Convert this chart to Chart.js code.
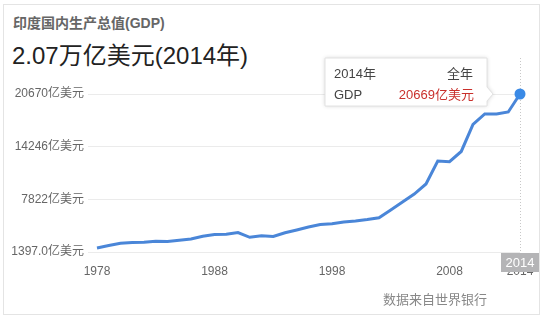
<!DOCTYPE html>
<html>
<head>
<meta charset="utf-8">
<script src="https://cdn.jsdelivr.net/npm/chart.js@4"></script>
<style>
  html, body { margin: 0; padding: 0; background: #fff; }
  body { width: 546px; height: 321px; position: relative; overflow: hidden;
         font-family: "Liberation Sans", Arial, "Noto Sans CJK SC", sans-serif; }
  .card { position: absolute; left: 3px; top: 4px; width: 537px; height: 311px;
          border: 1px solid #e4e4e4; box-sizing: border-box; }
  .title { position: absolute; left: 13px; top: 12px; font-size: 14px; font-weight: bold; color: #666; }
  .big { position: absolute; left: 12px; top: 36px; font-size: 24px; color: #222; }
  .source { position: absolute; left: 383px; top: 289px; font-size: 13px; color: #888; }
  #chart { position: absolute; left: 0; top: 0; }
</style>
</head>
<body>
<div class="card"></div>
<div class="title">印度国内生产总值(GDP)</div>
<div class="big">2.07万亿美元(2014年)</div>
<canvas id="chart" width="546" height="321"></canvas>
<div class="source">数据来自世界银行</div>
<script>
const years = ['1978','1979','1980','1981','1982','1983','1984','1985','1986','1987',
               '1988','1989','1990','1991','1992','1993','1994','1995','1996','1997',
               '1998','1999','2000','2001','2002','2003','2004','2005','2006','2007',
               '2008','2009','2010','2011','2012','2013','2014'];
const gdpValues = [1885, 2190, 2460, 2545, 2580, 2715, 2680, 2825, 2985, 3325,
                   3530, 3555, 3775, 3190, 3385, 3290, 3740, 4080, 4445, 4750,
                   4850, 5060, 5180, 5360, 5580, 6520, 7500, 8470, 9700, 12500,
                   12415, 13660, 16950, 18235, 18235, 18480, 20669];
const yTickValues = [1397, 7822, 14246, 20670];
const yTickLabels = ['1397.0亿美元', '7822亿美元', '14246亿美元', '20670亿美元'];
const xTickLabels = ['1978', '1988', '1998', '2008', '2014'];

const FONT = '"Liberation Sans", Arial, "Noto Sans CJK SC", sans-serif';
const last = years.length - 1;

// hover overlay: crosshair, year badge and tooltip
const hoverPlugin = {
    id: 'hover',
    beforeDatasetsDraw(chart) {
        const p = chart.getDatasetMeta(0).data[last];
        const ctx = chart.ctx;
        ctx.save();
        ctx.strokeStyle = '#c8c8c8';
        ctx.lineWidth = 1;
        ctx.setLineDash([1, 2]);
        ctx.beginPath();
        ctx.moveTo(Math.round(p.x) + 0.5, 58);
        ctx.lineTo(Math.round(p.x) + 0.5, chart.chartArea.bottom);
        ctx.stroke();
        ctx.restore();
    },
    afterDraw(chart) {
        const p = chart.getDatasetMeta(0).data[last];
        const ctx = chart.ctx;
        ctx.save();

        // year badge on x axis
        ctx.fillStyle = '#b4b4b6';
        ctx.fillRect(p.x - 19, 253, 38, 19);
        ctx.fillStyle = '#fff';
        ctx.font = '13px ' + FONT;
        ctx.textAlign = 'center';
        ctx.textBaseline = 'middle';
        ctx.fillText(years[last], p.x, 263);

        // tooltip box
        const right = p.x - 33, left = p.x - 195, top = p.y - 36, bottom = p.y + 12;
        ctx.shadowColor = 'rgba(0,0,0,0.18)';
        ctx.shadowBlur = 4;
        ctx.fillStyle = '#fff';
        ctx.beginPath();
        ctx.moveTo(left, top);
        ctx.lineTo(right, top);
        ctx.lineTo(right, p.y - 7);
        ctx.lineTo(right + 6, p.y);
        ctx.lineTo(right, p.y + 7);
        ctx.lineTo(right, bottom);
        ctx.lineTo(left, bottom);
        ctx.closePath();
        ctx.fill();
        ctx.shadowColor = 'transparent';
        ctx.strokeStyle = '#e2e2e2';
        ctx.lineWidth = 1;
        ctx.stroke();

        ctx.font = '13px ' + FONT;
        ctx.textBaseline = 'middle';
        ctx.fillStyle = '#444';
        ctx.textAlign = 'left';
        ctx.fillText(years[last] + '年', left + 9, p.y - 20);
        ctx.fillText('GDP', left + 9, p.y + 1);
        ctx.textAlign = 'right';
        ctx.fillText('全年', right - 14, p.y - 20);
        ctx.fillStyle = '#c9302c';
        ctx.fillText(gdpValues[last] + '亿美元', right - 13, p.y + 1);
        ctx.restore();
    }
};

const chart = new Chart(document.getElementById('chart').getContext('2d'), {
    type: 'line',
    data: {
        labels: years,
        datasets: [{
            data: gdpValues,
            borderColor: '#4a86d8',
            borderWidth: 3,
            tension: 0,
            fill: false,
            clip: false,
            pointRadius: (c) => c.dataIndex === last ? 5.5 : 0,
            pointBackgroundColor: '#3a8ae6',
            pointBorderWidth: 0,
        }]
    },
    options: {
        responsive: false,
        animation: false,
        events: [],
        layout: { padding: { top: 94, right: 26, left: 0, bottom: 0 } },
        plugins: {
            legend: { display: false },
            tooltip: { enabled: false },
        },
        scales: {
            x: {
                grid: { display: false, drawTicks: false },
                border: { display: false },
                afterFit: (scale) => { scale.height = 69; },
                ticks: {
                    autoSkip: false,
                    maxRotation: 0,
                    padding: 12,
                    color: '#666',
                    font: { size: 12, family: FONT },
                    callback: function (value) {
                        const lab = this.getLabelForValue(value);
                        return xTickLabels.includes(lab) ? lab : null;
                    }
                }
            },
            y: {
                min: yTickValues[0],
                max: yTickValues[yTickValues.length - 1],
                grid: { color: '#ebebeb', drawTicks: true, tickLength: 9, tickColor: '#ebebeb' },
                border: { display: false },
                afterFit: (scale) => { scale.width = 97; },
                afterBuildTicks: (scale) => {
                    scale.ticks = yTickValues.map(v => ({ value: v }));
                },
                ticks: {
                    padding: 4,
                    color: '#666',
                    font: { size: 12, family: FONT },
                    callback: (value) => yTickLabels[yTickValues.indexOf(value)]
                }
            }
        }
    },
    plugins: [hoverPlugin]
});
</script>
</body>
</html>
